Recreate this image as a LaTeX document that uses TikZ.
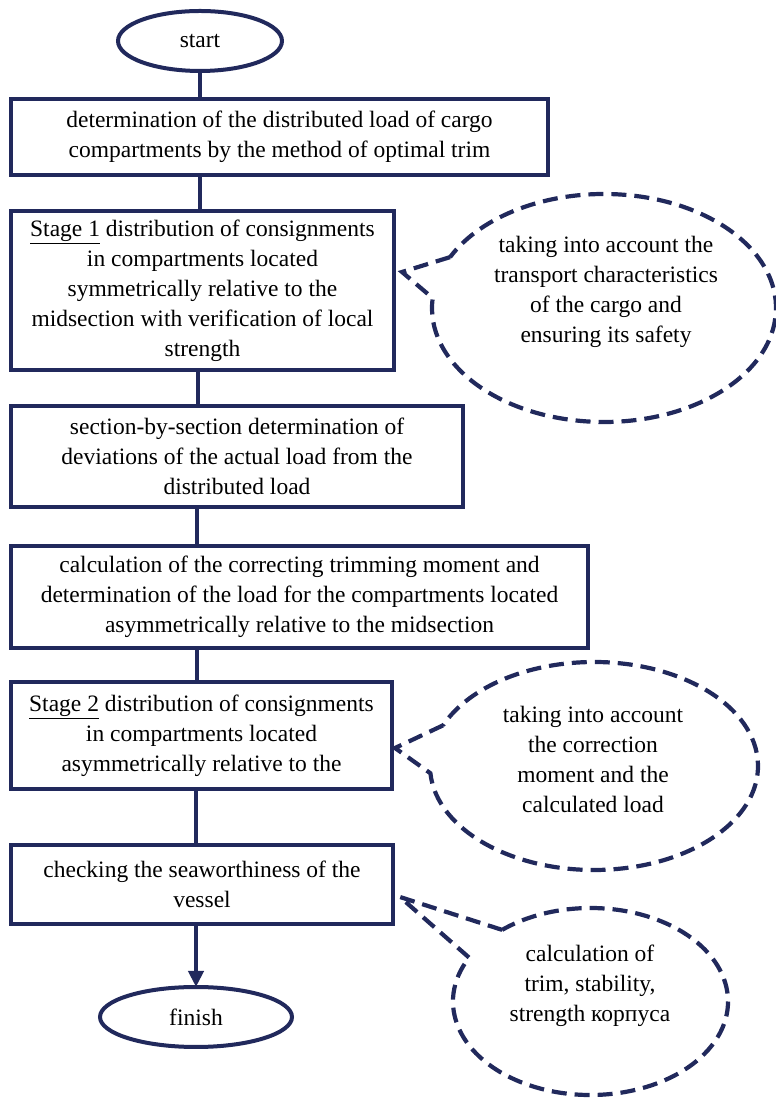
\documentclass[tikz,border=0pt]{standalone}
\usepackage{fontspec}
\setmainfont{Liberation Serif}
\usetikzlibrary{arrows.meta,calc}
\definecolor{navy}{RGB}{33,41,92}
\begin{document}
\begin{tikzpicture}[x=1pt,y=1pt,
  txt/.style={font=\fontsize{23.5}{30}\selectfont, align=center, text=black},
  box/.style={txt, draw=navy, line width=4pt, rectangle, inner sep=0pt},
  conn/.style={draw=navy, line width=4pt},
  callout/.style={draw=navy, line width=4.2pt, dash pattern=on 15pt off 8pt, line join=miter}
]
\useasboundingbox (0,0) rectangle (776,1098);

% terminals
\draw[navy, line width=4pt] (200,1057) ellipse [x radius=82, y radius=30];
\node[txt] (start) at (200,1057) {start};
\coordinate (startS) at (200,1027);
\draw[navy, line width=4pt] (196,81) ellipse [x radius=96, y radius=30];
\node[txt] (finish) at (196,81) {finish};
\coordinate (finishN) at (196,111);

% boxes
\node[box, minimum width=537, minimum height=76] (b1) at (279.5,961)
  {determination of the distributed load of cargo\\compartments by the method of optimal trim};
\node[box, minimum width=383, minimum height=159] (b2) at (202.5,807.5)
  {\underline{Stage 1} distribution of consignments\\in compartments located\\symmetrically relative to the\\midsection with verification of local\\strength};
\node[box, minimum width=452, minimum height=101] (b3) at (237,641.5)
  {section-by-section determination of\\deviations of the actual load from the\\distributed load};
\node[box, minimum width=577, minimum height=102] (b4) at (299.5,501)
  {calculation of the correcting trimming moment and\\determination of the load for the compartments located\\asymmetrically relative to the midsection};
\node[box, minimum width=381, minimum height=107] (b5) at (201.5,362.5)
  {\underline{Stage 2} distribution of consignments\\in compartments located\\asymmetrically relative to the};
\node[box, minimum width=382, minimum height=79] (b6) at (202,213.5)
  {checking the seaworthiness of the\\vessel};

% connectors
\draw[conn] (startS) -- (startS |- b1.north);
\draw[conn] (b1.south -| startS) -- (b2.north -| startS);
\draw[conn] ([xshift=-2pt]b2.south -| startS) -- ([xshift=-2pt]b3.north -| startS);
\draw[conn] ([xshift=-3pt]b3.south -| startS) -- ([xshift=-3pt]b4.north -| startS);
\draw[conn] ([xshift=-3pt]b4.south -| startS) -- ([xshift=-3pt]b5.north -| startS);
\draw[conn] (b5.south -| finishN) -- (b6.north -| finishN);
\draw[conn, -{Triangle[length=16pt,width=15pt]}] (b6.south -| finishN) -- (finishN);

% callout 1
\coordinate (c1) at (604,790);
\coordinate (t1) at (402,826);
\draw[callout] ($(c1)+(153.5:172pt and 114pt)$) -- (t1) -- ($(c1)+(175:172pt and 114pt)$)
  arc[start angle=175, end angle=513.5, x radius=172pt, y radius=114pt] -- cycle;
\node[txt] (n1) at (606,806) {taking into account the\\transport characteristics\\of the cargo and\\ensuring its safety};

% callout 2
\coordinate (c2) at (594,332);
\coordinate (t2) at (395,350);
\draw[callout] ($(c2)+(157:164pt and 104pt)$) -- (t2) -- ($(c2)+(184:164pt and 104pt)$)
  arc[start angle=184, end angle=517, x radius=164pt, y radius=104pt] -- cycle;
\node[txt] (n2) at (593,339) {taking into account\\the correction\\moment and the\\calculated load};

% callout 3
\coordinate (c3) at (590.5,96.5);
\coordinate (t3) at (400,201);
\draw[callout] ($(c3)+(130:137.5pt and 93.5pt)$) -- (t3) -- ($(c3)+(152:137.5pt and 93.5pt)$)
  arc[start angle=152, end angle=490, x radius=137.5pt, y radius=93.5pt] -- cycle;
\node[txt] (n3) at (590,112) {calculation of\\trim, stability,\\strength корпуса};
\end{tikzpicture}
\end{document}
